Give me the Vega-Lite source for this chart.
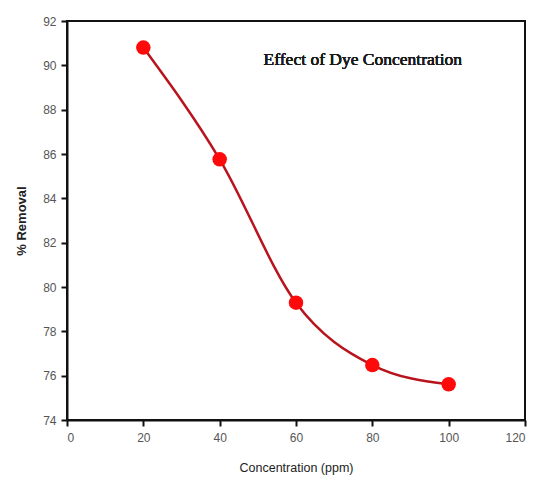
{
  "$schema": "https://vega.github.io/schema/vega-lite/v6.json",
  "autosize": {"type": "none"},
  "padding": {"left": 67, "top": 21, "right": 13, "bottom": 63},
  "width": 458,
  "height": 399,
  "background": "white",
  "config": {
    "view": {"stroke": "#111111", "strokeWidth": 2},
    "axis": {
      "domainColor": "#111111",
      "domainWidth": 2,
      "tickColor": "#111111",
      "tickWidth": 2,
      "tickSize": 6,
      "grid": false,
      "labelFont": "Liberation Sans",
      "labelFontSize": 12,
      "labelColor": "#555555",
      "titleFont": "Liberation Sans",
      "titleColor": "#222222"
    }
  },
  "data": {
    "values": [
      {"concentration": 20, "removal": 90.8},
      {"concentration": 40, "removal": 85.76},
      {"concentration": 60, "removal": 79.29},
      {"concentration": 80, "removal": 76.48},
      {"concentration": 100, "removal": 75.61}
    ]
  },
  "layer": [
    {
      "mark": {"type": "line", "interpolate": "monotone", "color": "#b8141e", "strokeWidth": 2.5},
      "encoding": {
        "x": {
          "field": "concentration",
          "type": "quantitative",
          "scale": {"domain": [0, 120], "nice": false},
          "axis": {
            "values": [0, 20, 40, 60, 80, 100, 120],
            "title": "Concentration (ppm)",
            "titleFontSize": 12.5,
            "titleFontWeight": "normal",
            "titlePadding": 18,
            "labelPadding": 6
          }
        },
        "y": {
          "field": "removal",
          "type": "quantitative",
          "scale": {"domain": [74, 92], "nice": false, "zero": false},
          "axis": {
            "values": [74, 76, 78, 80, 82, 84, 86, 88, 90, 92],
            "title": "% Removal",
            "titleFontSize": 13,
            "titleFontWeight": "bold",
            "titlePadding": 14,
            "labelPadding": 5
          }
        }
      }
    },
    {
      "mark": {"type": "point", "filled": true, "shape": "circle", "color": "#ff0a0a", "size": 210, "opacity": 1},
      "encoding": {
        "x": {"field": "concentration", "type": "quantitative"},
        "y": {"field": "removal", "type": "quantitative"}
      }
    },
    {
      "mark": {"type": "text", "font": "Liberation Serif", "fontSize": 17.5, "fontWeight": "normal", "color": "#1a1a1a", "align": "center", "baseline": "middle"},
      "encoding": {
        "x": {"datum": 77.5, "type": "quantitative"},
        "y": {"datum": 90.24, "type": "quantitative"},
        "text": {"value": "Effect of Dye Concentration"}
      }
    }
  ]
}
